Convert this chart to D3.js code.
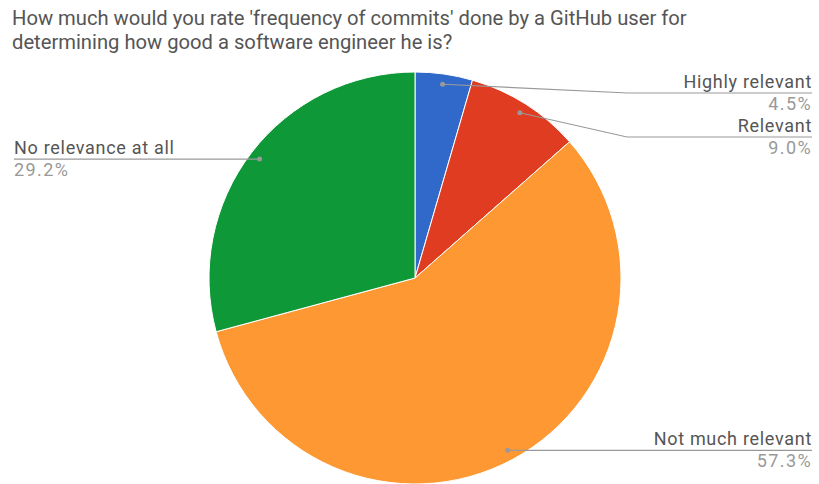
<!DOCTYPE html>
<html><head><meta charset="utf-8">
<script src="https://cdn.jsdelivr.net/npm/d3@7"></script>
<style>body{margin:0;background:#fff;} svg{display:block;}</style>
</head><body>
<svg id="c" width="819" height="484"></svg>
<script>
const titleLines = ["How much would you rate 'frequency of commits' done by a GitHub user for",
                    "determining how good a software engineer he is?"];
const categories = ["Highly relevant", "Relevant", "Not much relevant", "No relevance at all"];
const values = [4.5, 9.0, 57.3, 29.2];
const colors = ["#3069ca", "#df3c22", "#fd9833", "#0e9837"];

const W = 819, H = 484;
const cx = 415, cy = 278, R = 206;
const svg = d3.select("#c");
const font = "Roboto, 'Liberation Sans', sans-serif";

svg.append("g").selectAll("text").data(titleLines).join("text")
  .attr("x", 12).attr("y", (d, i) => 25 + i * 24)
  .attr("font-family", font).attr("font-size", 20.2).attr("fill", "#555")
  .text(d => d);

const data = categories.map((c, i) => ({name: c, value: values[i], color: colors[i]}));
const pie = d3.pie().value(d => d.value).sort(null);
const arcs = pie(data);
const arc = d3.arc().innerRadius(0).outerRadius(R);
const dotArc = d3.arc().innerRadius(R * 0.95).outerRadius(R * 0.95);

const g = svg.append("g").attr("transform", `translate(${cx},${cy})`);
g.selectAll("path").data(arcs).join("path")
  .attr("d", arc).attr("fill", d => d.data.color)
  .attr("stroke", "#fff").attr("stroke-width", 1);

const labelLayout = [
  {side: "right", lineY: 93, elbowX: 628},
  {side: "right", lineY: 137, elbowX: 627},
  {side: "right", lineY: null, elbowX: null},
  {side: "left", lineY: null, elbowX: null}
];
const lab = svg.append("g");
arcs.forEach((a, i) => {
  const [dx, dy] = dotArc.centroid(a);
  const px = cx + dx, py = cy + dy;
  const L = labelLayout[i];
  const ly = L.lineY == null ? py : L.lineY;
  const endX = L.side === "right" ? 812 : 14;
  const pts = L.elbowX ? [[px, py], [L.elbowX, ly], [endX, ly]] : [[px, py], [endX, ly]];
  lab.append("path").attr("d", d3.line()(pts))
    .attr("fill", "none").attr("stroke", "#999").attr("stroke-width", 1.2);
  lab.append("circle").attr("cx", px).attr("cy", py).attr("r", 2.5).attr("fill", "#999");
  const anchor = L.side === "right" ? "end" : "start";
  lab.append("text").attr("x", endX).attr("y", ly - 5)
    .attr("text-anchor", anchor).attr("font-family", font).attr("font-size", 18)
    .attr("letter-spacing", 0.7)
    .attr("fill", "#555").text(a.data.name);
  lab.append("text").attr("x", endX).attr("y", ly + 17)
    .attr("text-anchor", anchor).attr("font-family", font).attr("font-size", 18)
    .attr("letter-spacing", 1.4)
    .attr("fill", "#999").text(d3.format(".1f")(a.data.value) + "%");
});
</script>
</body></html>
